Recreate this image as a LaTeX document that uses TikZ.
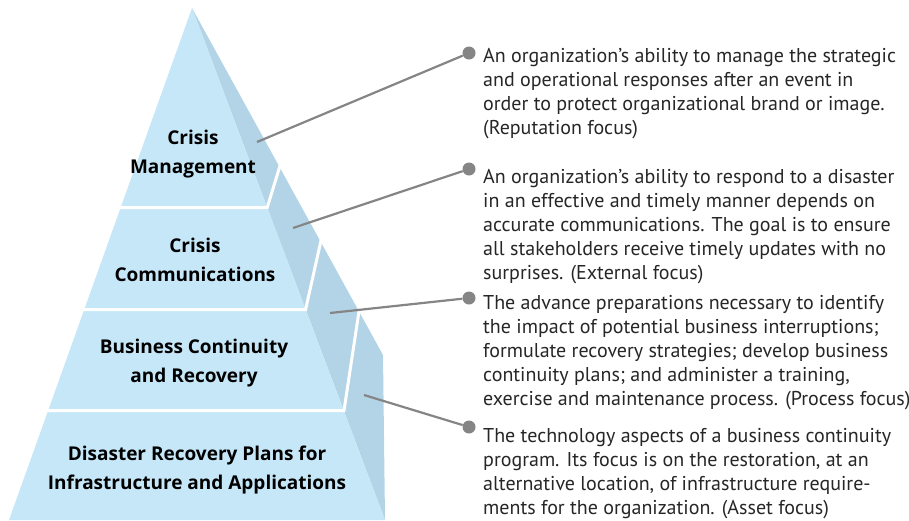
\documentclass[tikz,border=0pt]{standalone}
\usepackage{fontspec}
\setmainfont{PT Sans}
\newfontfamily\labelfont{Open Sans}
\usetikzlibrary{positioning}
\definecolor{frontblue}{HTML}{C6E7F8}
\definecolor{sideblue}{HTML}{B3D4E6}
\definecolor{pingray}{HTML}{858585}

\begin{document}
\begin{tikzpicture}[x=1pt,y=-1pt,
  layer/.style={font=\labelfont\fontsize{19}{29.5}\selectfont\bfseries,align=center},
  desc/.style={font=\fontsize{20}{24}\selectfont,align=left,anchor=base west,text=black!85,inner sep=0pt},
  pin/.style={circle,fill=pingray,inner sep=0pt,minimum size=13pt},
  lead/.style={pingray,line width=2.2pt}]
\useasboundingbox (0,0) rectangle (909,520);

  \fill[sideblue] (192,8)--(383,355)--(385,520)--cycle;
  \fill[frontblue] (192,8)--(9,520)--(385,520)--cycle;

  % white gaps between the layers
  \draw[white,line width=3pt] (0,207.5)--(267.2,207.5)--(281.5,161);
  \draw[white,line width=3pt] (0,309.5)--(305.6,309.5)--(322,236);
  \draw[white,line width=3pt] (0,410.5)--(344,410.5)--(359.5,308);

  \node[layer] (crisisMgmt) at (193,154) {Crisis\\Management};
  \node[layer] (crisisComm) at (195,260) {Crisis\\Communications};
  \node[layer] (busCont) at (194,363) {Business Continuity\\and Recovery};
  \node[layer] (disRec) at (197,470) {Disaster Recovery Plans for\\Infrastructure and Applications};

  \coordinate (pinMgmt) at (257,142);
  \coordinate (pinComm) at (293,228);
  \coordinate (pinCont) at (330,313);
  \coordinate (pinRec) at (364,395);

  \node[pin] (dotMgmt) at (469,53) {};
  \node[pin] (dotComm) at (469,169) {};
  \node[pin] (dotCont) at (469,298) {};
  \node[pin] (dotRec) at (469,427) {};

  \draw[lead] (pinMgmt)--(dotMgmt);
  \draw[lead] (pinComm)--(dotComm);
  \draw[lead] (pinCont)--(dotCont);
  \draw[lead] (pinRec)--(dotRec);

  % the base anchor sits on the last line
  \node[desc] (txtMgmt) at (483,134.5) {An organization’s ability to manage the strategic\\and operational responses after an event in\\order to protect organizational brand or image.\\(Reputation focus)};
  \node[desc] (txtComm) at (483,279) {An organization’s ability to respond to a disaster\\in an effective and timely manner depends on\\accurate communications. The goal is to ensure\\all stakeholders receive timely updates with no\\surprises. (External focus)};
  \node[desc] (txtCont) at (483,405.5) {The advance preparations necessary to identify\\the impact of potential business interruptions;\\formulate recovery strategies; develop business\\continuity plans; and administer a training,\\exercise and maintenance process. (Process focus)};
  \node[desc] (txtRec) at (483,514.5) {The technology aspects of a business continuity\\program. Its focus is on the restoration, at an\\alternative location, of infrastructure require-\\ments for the organization. (Asset focus)};

\end{tikzpicture}
\end{document}
